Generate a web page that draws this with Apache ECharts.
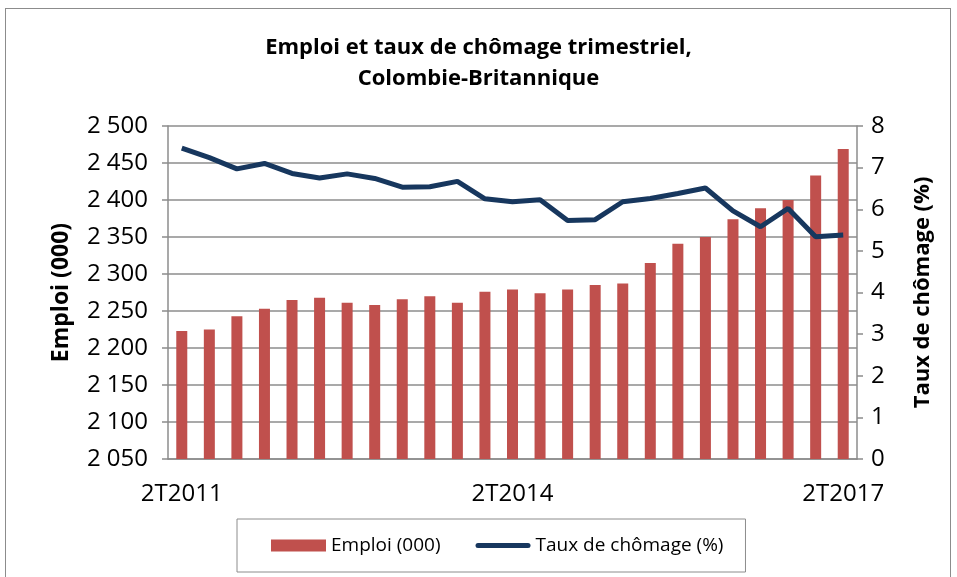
<!DOCTYPE html>
<html>
<head>
<meta charset="utf-8">
<script src="https://cdn.jsdelivr.net/npm/echarts@6/dist/echarts.min.js"></script>
<style>
  body { margin: 0; background: #fff; }
  #frame { position: absolute; left: 5px; top: 8px; width: 946px; height: 575px; border: 1.5px solid #8c8c8c; box-sizing: border-box; }
  #chart { position: absolute; left: 0; top: 0; width: 957px; height: 577px; }
</style>
</head>
<body>
<div id="frame"></div>
<div id="chart"></div>
<script>
// trimestres 2T2011 .. 2T2017
var quarters = []
for (var y = 2011; y <= 2017; y++) {
  for (var q = 1; q <= 4; q++) {
    if ((y === 2011 && q < 2) || (y === 2017 && q > 2)) continue
    quarters.push(q + 'T' + y)
  }
}
var emploi = [2223, 2225, 2243, 2253, 2265, 2268, 2261, 2258, 2266, 2270, 2261, 2276,
  2279, 2274, 2279, 2285, 2287, 2315, 2341, 2350, 2374, 2389, 2400, 2433, 2469]
var chomage = [7.47, 7.24, 6.97, 7.10, 6.86, 6.75, 6.85, 6.74, 6.53, 6.54, 6.67, 6.25,
  6.18, 6.23, 5.73, 5.75, 6.18, 6.26, 6.38, 6.51, 5.96, 5.58, 6.02, 5.34, 5.38]

var font = '"Open Sans", sans-serif'
var gray = '#8c8c8c'

var myChart = echarts.init(document.getElementById('chart'))
var option = {
  animation: false,
  textStyle: { fontFamily: font, color: '#000' },
  title: {
    text: 'Emploi et taux de chômage trimestriel,\nColombie-Britannique',
    left: 'center',
    top: 27,
    textStyle: { fontFamily: font, fontSize: 22, fontWeight: 'bold', color: '#000', lineHeight: 31 },
  },
  legend: {
    left: 237,
    top: 519,
    padding: [17, 22, 17, 34],
    borderColor: gray,
    borderWidth: 1,
    itemWidth: 55,
    itemHeight: 12,
    itemGap: 35,
    symbolKeepAspect: true,
    textStyle: { fontFamily: font, fontSize: 19, color: '#000' },
    data: [
      { name: 'Emploi (000)', icon: 'rect' },
      { name: 'Taux de chômage (%)', icon: 'path://M2.5,0 L52.5,0 A2.5,2.5 0 0 1 52.5,5 L2.5,5 A2.5,2.5 0 0 1 2.5,0 Z' },
    ],
  },
  grid: { left: 168, right: 100, top: 126, bottom: 118 },
  xAxis: {
    type: 'category',
    data: quarters,
    boundaryGap: true,
    axisLine: { lineStyle: { color: gray, width: 1.5 } },
    axisTick: { interval: 0, length: 7, lineStyle: { color: gray, width: 1.5 } },
    axisLabel: { interval: 11, margin: 23, fontSize: 24, color: '#000', fontFamily: font },
  },
  yAxis: [
    {
      type: 'value',
      min: 2050,
      max: 2500,
      interval: 50,
      name: 'Emploi (000)',
      nameLocation: 'middle',
      nameGap: 95,
      nameTextStyle: { fontFamily: font, fontSize: 23, fontWeight: 'bold', color: '#000' },
      axisLine: { show: true, lineStyle: { color: gray, width: 1.5 } },
      axisTick: { show: true, length: 6, lineStyle: { color: gray, width: 1.5 } },
      axisLabel: {
        margin: 20, fontSize: 24, color: '#000', fontFamily: font,
        formatter: function (v) { return String(v).replace(/(\d)(\d{3})$/, '$1 $2') },
      },
      splitLine: { lineStyle: { color: gray, width: 1.5 } },
    },
    {
      type: 'value',
      min: 0,
      max: 8,
      interval: 1,
      name: 'Taux de chômage (%)',
      nameLocation: 'middle',
      nameGap: 55,
      nameRotate: 90,
      nameTextStyle: { fontFamily: font, fontSize: 22, fontWeight: 'bold', color: '#000' },
      axisLine: { show: true, lineStyle: { color: gray, width: 1.5 } },
      axisTick: { show: true, length: 6, lineStyle: { color: gray, width: 1.5 } },
      axisLabel: { margin: 14, fontSize: 24, color: '#000', fontFamily: font },
      splitLine: { show: false },
    },
  ],
  series: [
    {
      name: 'Emploi (000)',
      type: 'bar',
      data: emploi,
      barWidth: 11,
      itemStyle: { color: '#C0504D' },
    },
    {
      name: 'Taux de chômage (%)',
      type: 'line',
      yAxisIndex: 1,
      data: chomage,
      symbol: 'none',
      lineStyle: { color: '#17375E', width: 5 },
      itemStyle: { color: '#17375E' },
    },
  ],
}
myChart.setOption(option)
</script>
</body>
</html>
